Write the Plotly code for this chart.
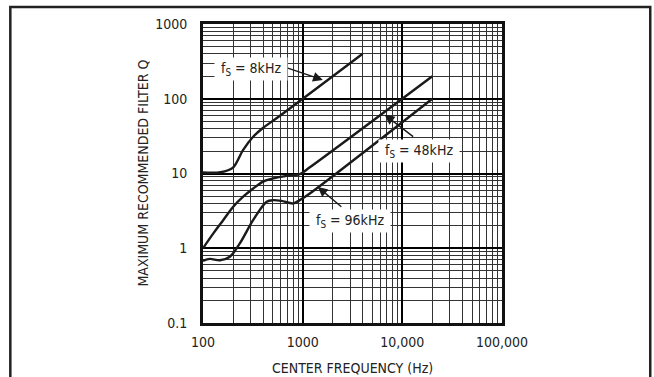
import numpy as np
import plotly.graph_objects as go

# ---- data ----
freq_8k = [100, 150, 200, 252, 317, 399, 551, 4000]
q_8k = [10.3, 10.4, 12.0, 20.6, 30.8, 40.6, 55.2, 400]

freq_48k = [100, 127, 160, 201, 253, 319, 401, 506, 690, 935, 1180, 20000]
q_48k = [1.0, 1.58, 2.39, 3.6, 4.9, 6.3, 7.8, 8.6, 9.3, 9.8, 12.1, 200]

freq_96k = [100, 117, 148, 186, 235, 319, 435, 506, 613, 802, 935, 1180, 20000]
q_96k = [0.68, 0.72, 0.69, 0.77, 1.17, 2.39, 4.2, 4.4, 4.3, 3.98, 4.4, 5.4, 100]

x_ticks = [100, 1000, 10000, 100000]
x_tick_text = ["100", "1000", "10,000", "100,000"]
y_ticks = [0.1, 1, 10, 100, 1000]
y_tick_text = ["0.1", "1", "10", "100", "1000"]

x_title = "CENTER FREQUENCY (Hz)"
y_title = "MAXIMUM RECOMMENDED FILTER Q"

labels = ["f<sub>S</sub> = 8kHz", "f<sub>S</sub> = 48kHz", "f<sub>S</sub> = 96kHz"]
# arrow tips (on curves) in data units
tip_f = [1594, 6650, 1420]
tip_q = [178, 61, 6.6]

FONT = "Liberation Sans Narrow, DejaVu Sans Condensed, Arial Narrow, sans-serif"
INK = "#1a1a1a"
TXT = "#222"

fig = go.Figure()
for f, q in [(freq_8k, q_8k), (freq_48k, q_48k), (freq_96k, q_96k)]:
    fig.add_trace(go.Scatter(x=f, y=q, mode="lines",
                             line=dict(color=INK, width=2.4, shape="spline", smoothing=0.9),
                             hoverinfo="skip", showlegend=False))

def minors(lo, hi):
    out = []
    d = lo
    while d < hi:
        out += [d * k for k in range(2, 10)]
        d *= 10
    return out

fig.update_xaxes(type="log", range=[2, 5], tickvals=x_ticks, ticktext=x_tick_text,
                 showgrid=True, gridcolor="#000", gridwidth=2,
                 minor=dict(tickvals=minors(100, 100000), showgrid=True, gridcolor="#333", gridwidth=1),
                 showline=True, linecolor="#111", linewidth=3, mirror=True,
                 ticks="", ticklabelstandoff=4, zeroline=False, automargin=False,
                 tickfont=dict(family=FONT, size=14, color=TXT))
fig.update_yaxes(type="log", range=[-1, 3], tickvals=y_ticks, ticktext=y_tick_text,
                 showgrid=True, gridcolor="#000", gridwidth=2,
                 minor=dict(tickvals=minors(0.1, 1000), showgrid=True, gridcolor="#333", gridwidth=1),
                 showline=True, linecolor="#111", linewidth=3, mirror=True,
                 ticks="", ticklabelstandoff=10, zeroline=False, automargin=False,
                 tickfont=dict(family=FONT, size=14, color=TXT))

# axis titles
fig.add_annotation(x=(352.5 - 203) / 299.5, y=(323 - 368) / 299, xref="paper", yref="paper",
                   text=x_title, showarrow=False, xanchor="center", yanchor="middle",
                   font=dict(family=FONT, size=14, color=TXT))
fig.add_annotation(x=(142 - 203) / 299.5, y=0.5, xref="paper", yref="paper",
                   text=y_title, showarrow=False, textangle=-90, xanchor="center", yanchor="middle",
                   font=dict(family=FONT, size=14, color=TXT))

# arrows (start offsets in pixels relative to tip)
arrow_offsets = [(-38, -13), (30, 23), (25, 21)]
for fx, qy, (ax, ay) in zip(tip_f, tip_q, arrow_offsets):
    fig.add_annotation(x=np.log10(fx), y=np.log10(qy), xref="x", yref="y",
                       text="", showarrow=True, ax=ax, ay=ay,
                       arrowhead=2, arrowsize=1.4, arrowwidth=1.4, arrowcolor=INK, standoff=0)

# text boxes (centers in pixels converted to data)
box_centers_px = [(251, 69), (419, 151), (350, 221)]
NB = "\u00a0"
for txt, (px, py) in zip(labels, box_centers_px):
    fx = 2 + (px - 203) / 99.8
    qy = -1 + (323 - py) / 74.75
    fig.add_annotation(x=fx, y=qy, xref="x", yref="y", text=NB + txt + NB, showarrow=False,
                       bgcolor="white", borderpad=2,
                       font=dict(family=FONT, size=14, color=TXT))

# outer frame
fig.add_shape(type="rect", xref="paper", yref="paper",
              x0=(10 - 203) / 299.5, x1=(651 - 203) / 299.5,
              y0=(323 - 400) / 299, y1=(323 - 7) / 299,
              line=dict(color="#222", width=2.5), layer="below")

fig.update_layout(width=654, height=377, margin=dict(l=203, r=151.5, t=24, b=54),
                  paper_bgcolor="white", plot_bgcolor="white")

fig.write_html("out.html", config={"displayModeBar": False},
               post_script="document.body.style.margin='0';document.body.style.overflow='hidden';")
